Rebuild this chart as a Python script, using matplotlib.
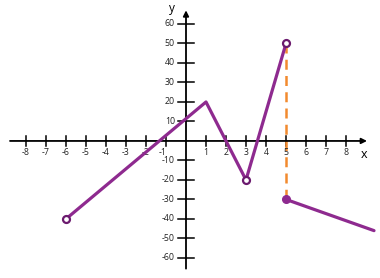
import matplotlib.pyplot as plt

# piecewise function pieces
main_x = [-6, 1, 3, 5]
main_y = [-40, 20, -20, 50]
tail_x = [5, 9.4]
tail_y = [-30, -46]
open_x = [-6, 3, 5]
open_y = [-40, -20, 50]
closed_x = [5]
closed_y = [-30]
jump_x = [5, 5]
jump_y = [50, -30]

x_ticks = [-8, -7, -6, -5, -4, -3, -2, -1, 1, 2, 3, 4, 5, 6, 7, 8]
y_ticks = [-60, -50, -40, -30, -20, -10, 10, 20, 30, 40, 50, 60]

PURPLE = "#8e2a8f"
DARK = "#6b1a6e"
ORANGE = "#f28a2e"


def main():
    fig = plt.figure(figsize=(3.8, 2.78), dpi=100)
    ax = fig.add_axes([0, 0, 1, 1])
    ax.set_xlim(-9.3, 9.7)
    ax.set_ylim(-70.3, 72.3)
    ax.axis("off")

    # axes with arrows
    ax.annotate("", xy=(9.05, 0), xytext=(-8.8, 0),
                arrowprops=dict(arrowstyle="-|>", color="black", lw=1.3,
                                mutation_scale=8, shrinkA=0, shrinkB=0))
    ax.annotate("", xy=(0, 67), xytext=(0, -65.5),
                arrowprops=dict(arrowstyle="-|>", color="black", lw=1.3,
                                mutation_scale=8, shrinkA=0, shrinkB=0))
    ax.text(8.9, -7, "x", fontsize=9, ha="center", va="center", family="Open Sans")
    ax.text(-0.7, 64.6, "y", fontsize=8.5, ha="center", va="bottom", family="Open Sans")

    for xt in x_ticks:
        ax.plot([xt, xt], [-2.6, 2.6], color="black", lw=1.1)
        # nudge -1 left so it clears the -10 label
        lx = xt - 0.15 if xt == -1 else xt
        ax.text(lx, -5.8, str(xt), fontsize=6.3, ha="center", va="center",
                family="Open Sans", color="#222222")
    for yt in y_ticks:
        ax.plot([-0.4, 0.4], [yt, yt], color="black", lw=1.1)
        ax.text(-0.55, yt, str(yt), fontsize=6.3, ha="right", va="center",
                family="Open Sans", color="#222222")

    ax.plot(jump_x, jump_y, color=ORANGE, lw=1.8, ls=(0, (4, 2.5)), zorder=2)
    ax.plot(main_x, main_y, color=PURPLE, lw=2.3, solid_capstyle="round", zorder=3)
    ax.plot(tail_x, tail_y, color=PURPLE, lw=2.3, solid_capstyle="round", zorder=3)
    ax.plot(open_x, open_y, "o", ms=5, mfc="white", mec=DARK, mew=1.6, zorder=4)
    ax.plot(closed_x, closed_y, "o", ms=5.5, color=PURPLE, zorder=4)

    fig.savefig("out.png", dpi=100)


if __name__ == "__main__":
    main()
